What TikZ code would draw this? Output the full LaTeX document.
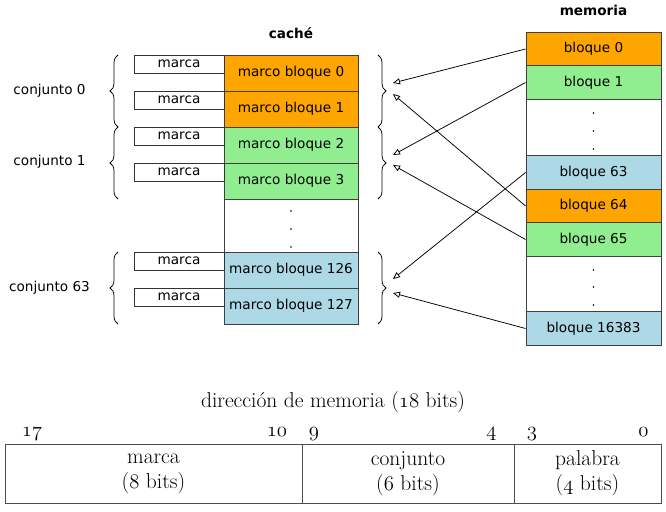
\documentclass[tikz,border=0pt]{standalone}
\usepackage{fontspec}
\setsansfont{DejaVu Sans}
\usetikzlibrary{arrows.meta,decorations.pathreplacing}
\definecolor{blkorange}{RGB}{255,165,0}
\definecolor{blkgreen}{RGB}{144,238,144}
\definecolor{blkblue}{RGB}{173,216,230}
\newcommand{\osf}[1]{{\usefont{OML}{lmm}{m}{it}#1}}
\tikzset{
   sansfont/.style={font=\sffamily\fontsize{13.6}{16}\selectfont},
   headfont/.style={font=\sffamily\bfseries\fontsize{13.6}{16}\selectfont},
   tagbox/.style={draw=black!80, line width=0.8pt, fill=white, sansfont, inner sep=0pt,
           minimum width=90pt, minimum height=18pt},
   framebox/.style={draw=black!75, line width=0.9pt, sansfont, inner sep=0pt,
           minimum width=134pt, minimum height=36pt},
   memblock/.style={draw=black!75, line width=0.9pt, sansfont, inner sep=0pt,
           minimum width=135pt, minimum height=33.4pt},
   setbrace/.style={decorate, decoration={brace, amplitude=8pt}, line width=0.75pt},
   mapto/.style={-{Triangle[open, length=7pt, width=6pt]}, line width=0.75pt},
   field/.style={draw=black!70, line width=0.8pt, align=center, inner sep=0pt,
           font=\fontsize{21.5}{25}\selectfont, minimum height=59pt},
   bitnum/.style={anchor=base, inner sep=0pt, font=\fontsize{21.5}{25}\selectfont}
}

\begin{document}
\begin{tikzpicture}[x=1pt, y=-1pt]
    \useasboundingbox (0,0) rectangle (666,511);

    % cache
    \node[headfont] (cachetitle) at (291,33) {caché};
    \node[framebox, fill=blkorange] (frame0) at (291,73) {marco bloque 0};
    \node[framebox, fill=blkorange] (frame1) at (291,109) {marco bloque 1};
    \node[framebox, fill=blkgreen] (frame2) at (291,145) {marco bloque 2};
    \node[framebox, fill=blkgreen] (frame3) at (291,181) {marco bloque 3};
    \node[framebox, minimum height=53pt] (framedots) at (291,225.5) {};
    \node[framebox, fill=blkblue] (frame126) at (291,270) {marco bloque 126};
    \node[framebox, fill=blkblue] (frame127) at (291,306) {marco bloque 127};
    \foreach \y in {211,229,247}
        \fill (291,\y) circle (0.8pt);

    \foreach \y/\n in {64/0, 100/1, 136/2, 172/3, 261/4, 297/5}
        \node[tagbox] (tag\n) at (179,\y) {marca};

    \draw[setbrace] (118,127) -- (118,55);
    \draw[setbrace] (118,199) -- (118,127);
    \draw[setbrace] (118,324) -- (118,252);
    \node[sansfont] (set0) at (49.5,91) {conjunto 0};
    \node[sansfont] (set1) at (49.5,162) {conjunto 1};
    \node[sansfont] (set63) at (49.5,288) {conjunto 63};

    \draw[setbrace] (378,55) -- (378,127);
    \draw[setbrace] (378,127) -- (378,199);
    \draw[setbrace] (378,252) -- (378,324);

    % memory
    \node[headfont] (memtitle) at (593.5,10) {memoria};
    \node[memblock, fill=blkorange] (mem0) at (593.5,49) {bloque 0};
    \node[memblock, fill=blkgreen] (mem1) at (593.5,82.5) {bloque 1};
    \node[memblock, minimum height=56.5pt] (memdotsa) at (593.5,127.5) {};
    \node[memblock, fill=blkblue] (mem63) at (593.5,172.5) {bloque 63};
    \node[memblock, fill=blkorange] (mem64) at (593.5,206) {bloque 64};
    \node[memblock, fill=blkgreen] (mem65) at (593.5,239.5) {bloque 65};
    \node[memblock, minimum height=56pt] (memdotsb) at (593.5,284) {};
    \node[memblock, fill=blkblue] (mem16383) at (593.5,328.5) {bloque 16383};
    \foreach \y in {113,131,149,270,287,305}
        \fill (593.5,\y) circle (0.8pt);

    \coordinate (in0a) at (393,83);
    \coordinate (in0b) at (393,94);
    \coordinate (in1a) at (393,155);
    \coordinate (in1b) at (393,165);
    \coordinate (in63a) at (393,279);
    \coordinate (in63b) at (393,293);
    \draw[mapto] (mem0.west) -- (in0a);
    \draw[mapto] (mem64.west) -- (in0b);
    \draw[mapto] (mem1.west) -- (in1a);
    \draw[mapto] (mem65.west) -- (in1b);
    \draw[mapto] (mem63.west) -- (in63a);
    \draw[mapto] (mem16383.west) -- (in63b);

    % address format
    \node[bitnum] (addrtitle) at (333,407) {dirección de memoria (\osf{18} bits)};
    \node[field, minimum width=297pt] (fmarca) at (153.5,473.5) {marca\\(\osf{8} bits)};
    \node[field, minimum width=212pt] (fset) at (408,473.5) {conjunto\\(\osf{6} bits)};
    \node[field, minimum width=147pt] (fword) at (587.5,473.5) {palabra\\(\osf{4} bits)};
    \foreach \x/\b in {32/17, 277/10, 314/9, 491.5/4, 532/3, 643.5/0}
        \node[bitnum] at (\x,436) {\osf{\b}};
\end{tikzpicture}
\end{document}
